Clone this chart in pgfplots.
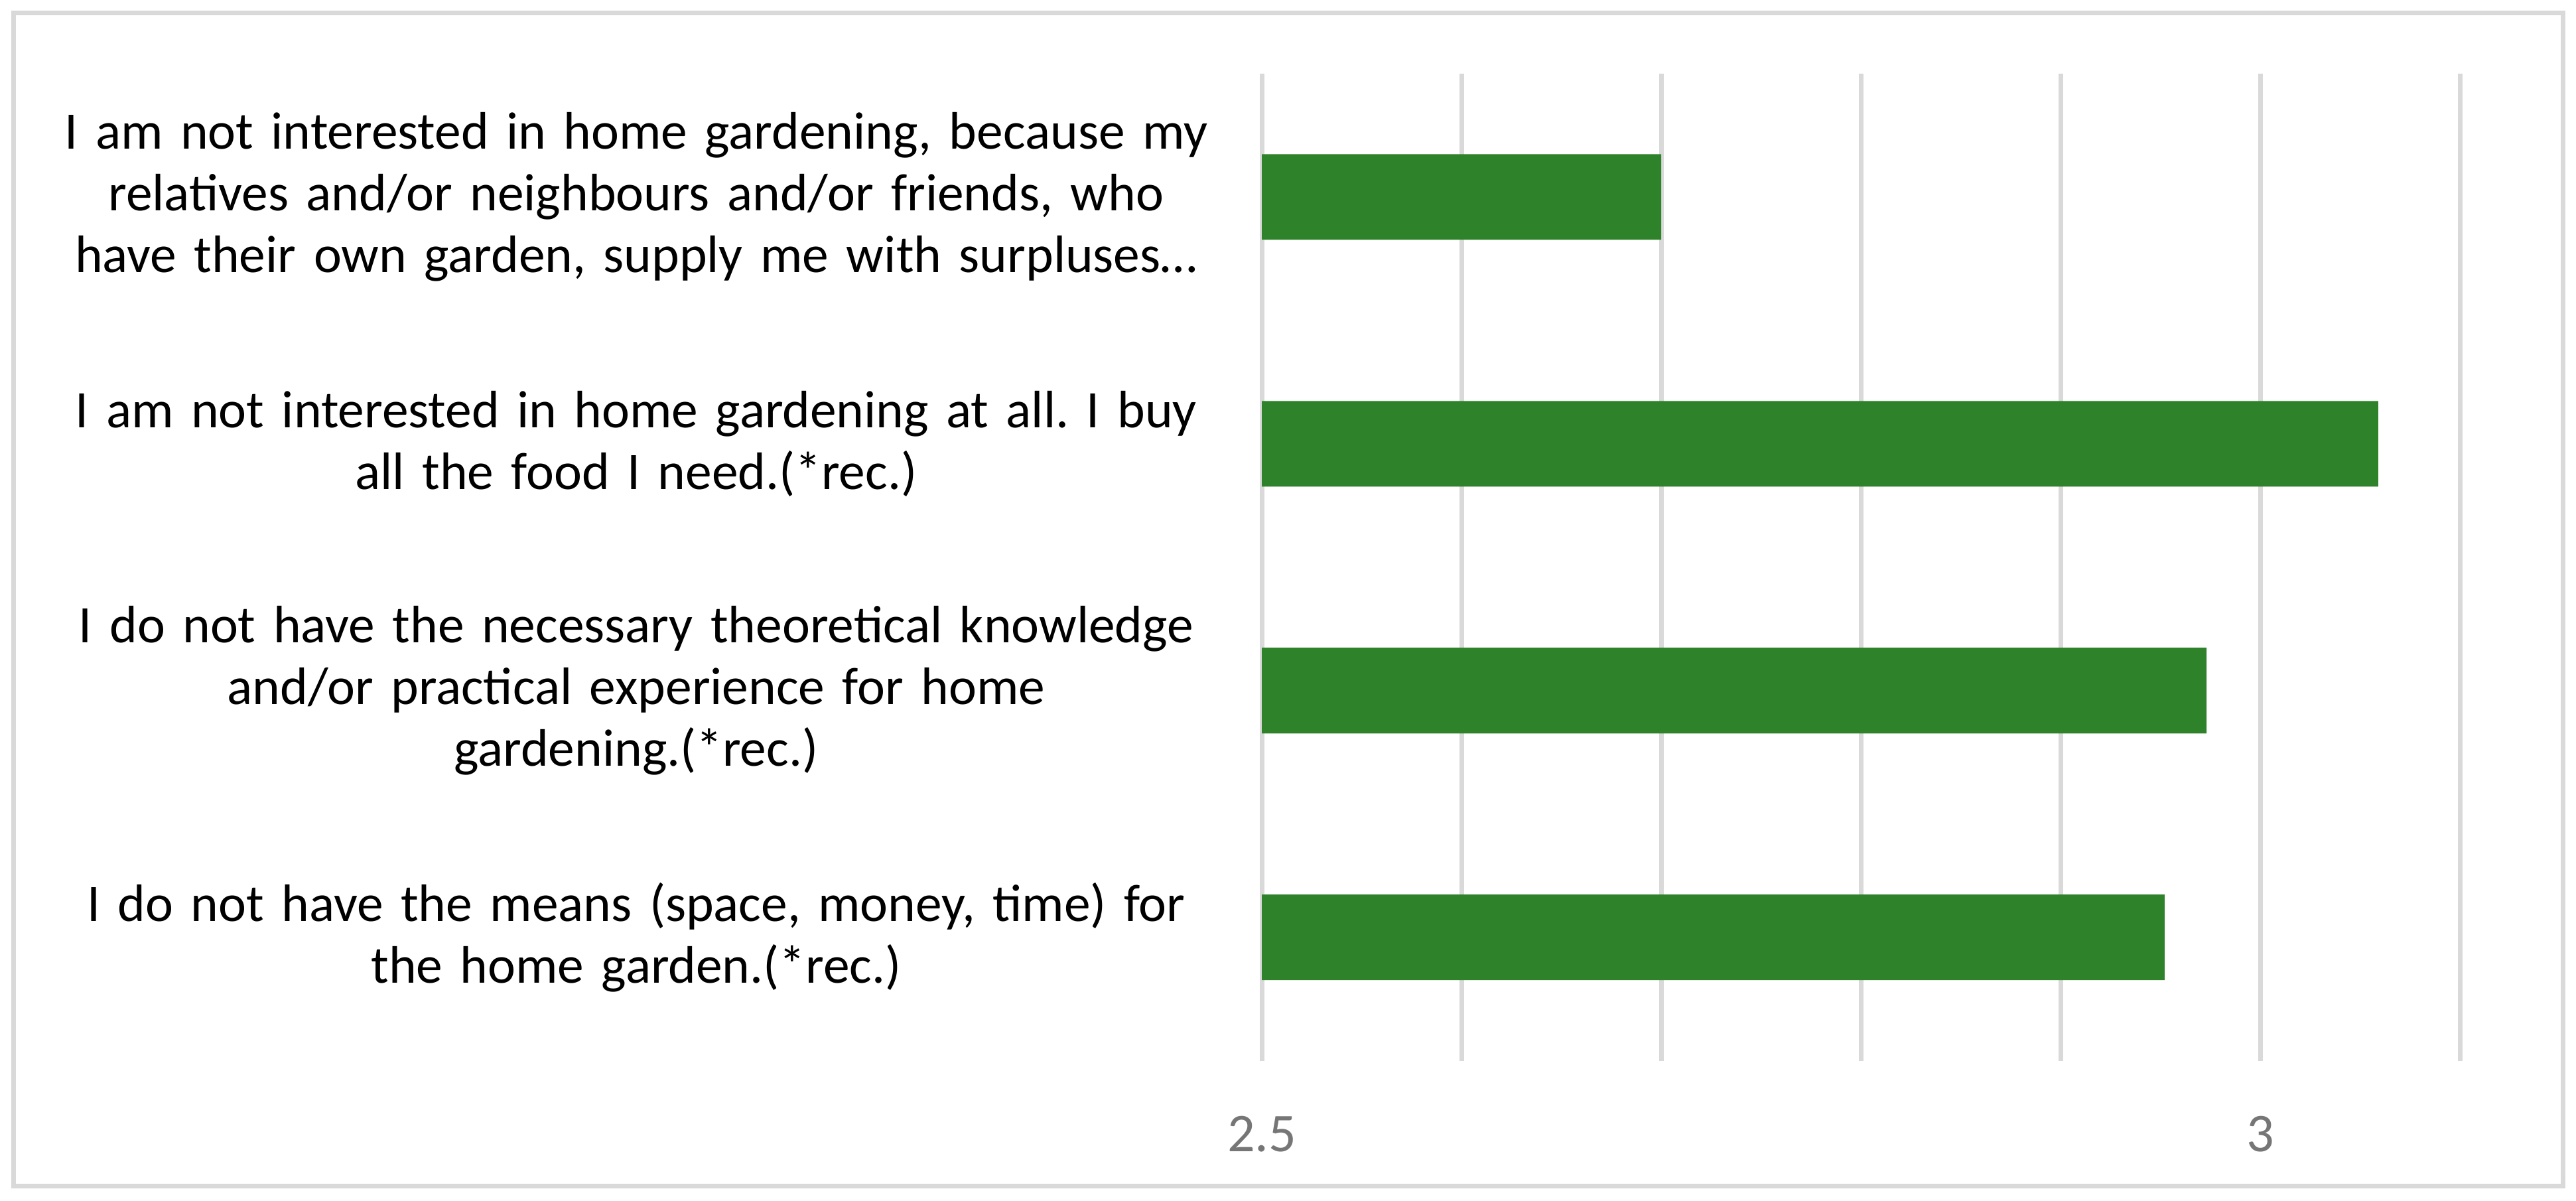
\documentclass[border=0pt]{standalone}
\usepackage{pgfplots}
\pgfplotsset{compat=1.18}
\usepackage{fontspec}
\setmainfont{Carlito}
\frenchspacing

\definecolor{barGreen}{RGB}{46,130,41}
\definecolor{gridGray}{RGB}{217,217,217}
\definecolor{tickGray}{RGB}{118,118,118}

\begin{document}
\begin{tikzpicture}
% page size and chart frame, in pt from the lower left corner of the plot area
\path[use as bounding box] (-277.7pt,-30.8pt) rectangle (289.2pt,233.4pt);
\draw[gridGray, line width=1pt] (-274.7pt,-27.6pt) rectangle (286.3pt,230.5pt);

\begin{axis}[
    at={(0pt,0pt)}, anchor=south west,
    scale only axis,
    width=263.7pt, height=217.2pt,
    xbar,
    bar width=0.347,
    xmin=2.5, xmax=3.1,
    ymin=-0.5, ymax=3.5,
    xtick={2.5,3}, xticklabels={2.5,3},
    minor xtick={2.6,2.7,2.8,2.9,3.1},
    xmajorgrids, xminorgrids,
    major grid style={draw=gridGray, line width=1pt},
    minor grid style={draw=gridGray, line width=1pt},
    ytick={0,1,2,3},
    yticklabels={
        {I do not have the means (space, money, time) for\\the home garden.(*rec.)},
        {I do not have the necessary theoretical knowledge\\and/or practical experience for home\\gardening.(*rec.)},
        {I am not interested in home gardening at all. I buy\\all the food I need.(*rec.)},
        {I am not interested in home gardening, because my\\relatives and/or neighbours and/or friends, who\\have their own garden, supply me with surpluses…}
    },
    axis line style={draw=none},
    major tick length=0pt, minor tick length=0pt,
    tick style={draw=none},
    yticklabel style={font=\fontsize{11.6}{13.6}\selectfont, align=center,
        text width=290pt, inner sep=0pt, anchor=east, xshift=7.5pt},
    xticklabel style={font=\fontsize{12}{13.6}\selectfont, text=tickGray,
        inner sep=0pt, anchor=north, yshift=-12pt},
]
\addplot[fill=barGreen, draw=none] coordinates {(2.952,0) (2.973,1) (3.059,2) (2.700,3)};
\end{axis}
\end{tikzpicture}
\end{document}
